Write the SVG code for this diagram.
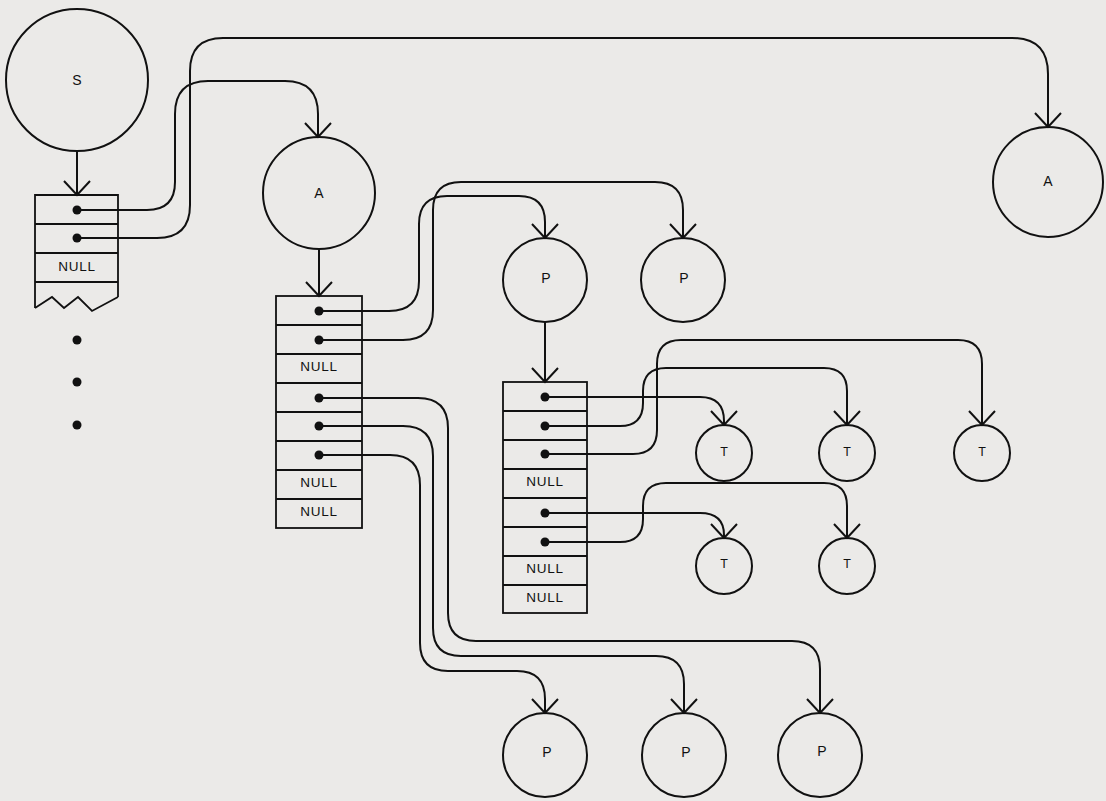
<svg xmlns="http://www.w3.org/2000/svg" width="1106" height="801" viewBox="0 0 1106 801">
<style>
.n{fill:none;stroke:#111;stroke-width:2}
.bx{fill:none;stroke:#111;stroke-width:1.8}
.c{fill:none;stroke:#111;stroke-width:2;marker-end:url(#arr)}
.d{fill:#111;stroke:none}
.t{font-family:"Liberation Sans",Arial,sans-serif;font-size:14px;fill:#111;text-anchor:middle;dominant-baseline:central}
.nl{font-family:"Liberation Sans",Arial,sans-serif;font-size:13.5px;fill:#111;text-anchor:middle;dominant-baseline:central;letter-spacing:0.8px}
.tt{font-family:"Liberation Sans",Arial,sans-serif;font-size:12.5px;fill:#111;text-anchor:middle;dominant-baseline:central}
</style>
<defs>
<marker id="arr" viewBox="-16 -16 32 32" refX="0" refY="0" markerWidth="32" markerHeight="32" markerUnits="userSpaceOnUse" orient="auto">
<path d="M-14,-13 L0,0 L-14,13" fill="none" stroke="#111" stroke-width="2"/>
</marker>
</defs>
<rect x="0" y="0" width="1106" height="801" fill="#ebeae8"/>

<g id="node-S">
<circle class="n" cx="77" cy="80" r="71"/>
<text class="t" x="77" y="80">S</text>
</g>

<g id="list-S">
<path class="bx" d="M35,308 V195 H118 V297"/>
<path class="bx" d="M35,224 H118 M35,253 H118 M35,282 H118"/>
<path class="bx" d="M35,308 L52,297 L64,308 L78,297 L92,311 L118,297"/>
<circle class="d" cx="77" cy="210" r="4.5"/>
<circle class="d" cx="77" cy="238" r="4.5"/>
<text class="nl" x="77" y="266">NULL</text>
</g>

<g id="ellipsis">
<circle class="d" cx="77" cy="340" r="4.5"/>
<circle class="d" cx="77" cy="382" r="4.5"/>
<circle class="d" cx="77" cy="425" r="4.5"/>
</g>

<g id="node-A1">
<circle class="n" cx="319" cy="193" r="56"/>
<text class="t" x="319" y="193">A</text>
</g>

<g id="node-A2">
<circle class="n" cx="1048" cy="182" r="55"/>
<text class="t" x="1048" y="181">A</text>
</g>

<g id="list-A">
<rect class="bx" x="276" y="296" width="86" height="232"/>
<path class="bx" d="M276,325 H362 M276,354 H362 M276,383 H362 M276,412 H362 M276,441 H362 M276,470 H362 M276,499 H362"/>
<circle class="d" cx="319" cy="311" r="4.5"/>
<circle class="d" cx="319" cy="340" r="4.5"/>
<text class="nl" x="319" y="366">NULL</text>
<circle class="d" cx="319" cy="398" r="4.5"/>
<circle class="d" cx="319" cy="426" r="4.5"/>
<circle class="d" cx="319" cy="455" r="4.5"/>
<text class="nl" x="319" y="482">NULL</text>
<text class="nl" x="319" y="511">NULL</text>
</g>

<g id="node-P1">
<circle class="n" cx="545" cy="280" r="42"/>
<text class="t" x="546" y="278">P</text>
</g>
<g id="node-P2">
<circle class="n" cx="683" cy="280" r="42"/>
<text class="t" x="684" y="278">P</text>
</g>

<g id="list-P">
<rect class="bx" x="503" y="382" width="84" height="231"/>
<path class="bx" d="M503,411 H587 M503,440 H587 M503,469 H587 M503,498 H587 M503,527 H587 M503,556 H587 M503,585 H587"/>
<circle class="d" cx="545" cy="397" r="4.5"/>
<circle class="d" cx="545" cy="426" r="4.5"/>
<circle class="d" cx="545" cy="454" r="4.5"/>
<text class="nl" x="545" y="481">NULL</text>
<circle class="d" cx="545" cy="513" r="4.5"/>
<circle class="d" cx="545" cy="542" r="4.5"/>
<text class="nl" x="545" y="568">NULL</text>
<text class="nl" x="545" y="597">NULL</text>
</g>

<g id="node-T1"><circle class="n" cx="724" cy="453" r="28"/><text class="tt" x="724" y="452">T</text></g>
<g id="node-T2"><circle class="n" cx="847" cy="453" r="28"/><text class="tt" x="847" y="452">T</text></g>
<g id="node-T3"><circle class="n" cx="982" cy="453" r="28"/><text class="tt" x="982" y="452">T</text></g>
<g id="node-T4"><circle class="n" cx="724" cy="566" r="28"/><text class="tt" x="724" y="564">T</text></g>
<g id="node-T5"><circle class="n" cx="847" cy="566" r="28"/><text class="tt" x="847" y="564">T</text></g>

<g id="node-P3"><circle class="n" cx="545" cy="755" r="42"/><text class="t" x="547" y="752">P</text></g>
<g id="node-P4"><circle class="n" cx="684" cy="755" r="42"/><text class="t" x="686" y="752">P</text></g>
<g id="node-P5"><circle class="n" cx="820" cy="755" r="42"/><text class="t" x="822" y="751">P</text></g>

<g id="connectors">
<path class="c" d="M77,151 V195"/>
<path class="c" d="M77,210 H147 Q175,210 175,182 V114 Q175,81 208,81 H285 Q318,81 318,114 V137"/>
<path class="c" d="M77,238 H157 Q190,238 190,205 V71 Q190,38 223,38 H1012 Q1048,38 1048,74 V127"/>
<path class="c" d="M319,249 V296"/>
<path class="c" d="M319,311 H389 Q419,311 419,281 V224 Q419,196 447,196 H519 Q545,196 545,222 V238"/>
<path class="c" d="M319,340 H403 Q433,340 433,310 V210 Q433,182 461,182 H655 Q683,182 683,210 V238"/>
<path class="c" d="M319,398 H418 Q448,398 448,428 V613 Q448,641 476,641 H792 Q820,641 820,669 V713"/>
<path class="c" d="M319,426 H403 Q433,426 433,456 V628 Q433,656 461,656 H656 Q684,656 684,684 V713"/>
<path class="c" d="M319,455 H390 Q420,455 420,485 V643 Q420,671 448,671 H517 Q545,671 545,699 V713"/>
<path class="c" d="M545,322 V382"/>
<path class="c" d="M545,397 H700 Q724,397 724,421 V425"/>
<path class="c" d="M545,426 H620 Q643,426 643,403 V391 Q643,368 666,368 H824 Q847,368 847,391 V425"/>
<path class="c" d="M545,454 H633 Q657,454 657,430 V364 Q657,340 681,340 H958 Q982,340 982,364 V425"/>
<path class="c" d="M545,513 H700 Q724,513 724,535 V538"/>
<path class="c" d="M545,542 H620 Q643,542 643,519 V506 Q643,483 666,483 H824 Q847,483 847,506 V538"/>
</g>
</svg>
